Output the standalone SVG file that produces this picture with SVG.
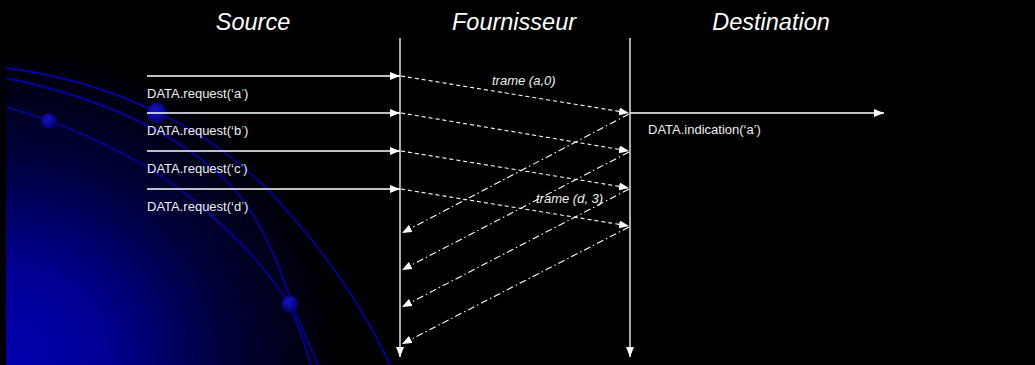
<svg xmlns="http://www.w3.org/2000/svg" width="1035" height="365" viewBox="0 0 1035 365">
  <defs>
    <radialGradient id="glow" gradientUnits="userSpaceOnUse" cx="6" cy="365" r="335" gradientTransform="translate(6 365) scale(1 0.95) translate(-6 -365)">
      <stop offset="0" stop-color="#0000b0"/>
      <stop offset="0.3" stop-color="#000094"/>
      <stop offset="0.65" stop-color="#00003c"/>
      <stop offset="1" stop-color="#000000"/>
    </radialGradient>
    <radialGradient id="bead" cx="0.4" cy="0.35" r="0.7">
      <stop offset="0" stop-color="#1414c0"/>
      <stop offset="1" stop-color="#000070"/>
    </radialGradient>
    <marker id="head" viewBox="0 0 10 8" refX="10" refY="4" markerWidth="10" markerHeight="8" markerUnits="userSpaceOnUse" orient="auto">
      <path d="M0,0 L10,4 L0,8 z" fill="#ffffff"/>
    </marker>
    <style>
      .title { font-family: "Liberation Sans", Arial, sans-serif; font-style: italic; font-size: 23.5px; fill: #ffffff; text-anchor: middle; }
      .label { font-family: "Liberation Sans", Arial, sans-serif; font-size: 13px; fill: #eeeeee; }
      .frame-label { font-family: "Liberation Sans", Arial, sans-serif; font-style: italic; font-size: 13px; fill: #eeeeee; }
      .quote { fill: #33cc33; }
      .life { stroke: #e0e0e0; stroke-width: 1.5; fill: none; marker-end: url(#head); }
      .req { stroke: #ffffff; stroke-width: 1.3; fill: none; marker-end: url(#head); }
      .frame { stroke: #ffffff; stroke-width: 1.1; fill: none; stroke-dasharray: 4 3; marker-end: url(#head); }
      .ack { stroke: #ffffff; stroke-width: 1.1; fill: none; stroke-dasharray: 7 3 1.5 3; marker-end: url(#head); }
      .orbit { stroke: #0000a4; stroke-width: 1.8; fill: none; }
    </style>
  </defs>

  <!-- backdrop -->
  <rect x="0" y="0" width="1035" height="365" fill="#000000"/>
  <rect x="6" y="0" width="1029" height="365" fill="url(#glow)"/>

  <!-- decorative orbits -->
  <g id="decor">
    <path class="orbit" d="M6,68 C100,80 200,120 270,192 C320,245 360,300 390,365"/>
    <path class="orbit" d="M6,78 C90,95 180,130 235,190 C265,225 280,270 292,303 C302,330 312,350 318,365"/>
    <path class="orbit" d="M6,107 C70,125 150,160 205,210 C245,245 275,280 288,303 C298,325 306,348 311,365"/>
    <circle cx="157" cy="113" r="10" fill="url(#bead)"/>
    <circle cx="49" cy="121" r="7.5" fill="url(#bead)"/>
    <circle cx="290" cy="304" r="8" fill="url(#bead)"/>
  </g>

  <!-- column titles -->
  <g id="source">
    <text class="title" x="253" y="30">Source</text>
  </g>
  <g id="fournisseur">
    <text class="title" x="514" y="30">Fournisseur</text>
  </g>
  <g id="destination">
    <text class="title" x="771" y="30">Destination</text>
  </g>

  <!-- connectors -->
  <g id="connectors">
    <!-- lifelines -->
    <line class="life" x1="400" y1="38" x2="400" y2="357"/>
    <line class="life" x1="630" y1="38" x2="630" y2="357"/>

    <!-- service requests -->
    <line class="req" x1="147" y1="76" x2="400" y2="76"/>
    <line class="req" x1="147" y1="113" x2="400" y2="113"/>
    <line class="req" x1="147" y1="151" x2="400" y2="151"/>
    <line class="req" x1="147" y1="189" x2="400" y2="189"/>

    <!-- indication -->
    <line class="req" x1="630" y1="113" x2="884" y2="113"/>

    <!-- frames -->
    <line class="frame" x1="401" y1="76" x2="629" y2="113"/>
    <line class="frame" x1="401" y1="113" x2="629" y2="151"/>
    <line class="frame" x1="401" y1="151" x2="629" y2="188"/>
    <line class="frame" x1="401" y1="189" x2="629" y2="226"/>

    <!-- acknowledgements -->
    <line class="ack" x1="629" y1="114" x2="402" y2="233"/>
    <line class="ack" x1="629" y1="152" x2="402" y2="270"/>
    <line class="ack" x1="629" y1="189" x2="402" y2="307"/>
    <line class="ack" x1="629" y1="227" x2="402" y2="344"/>
  </g>

  <!-- labels -->
  <g id="req-a"><text class="label" x="147" y="98">DATA.request(‘a<tspan class="quote">’</tspan>)</text></g>
  <g id="req-b"><text class="label" x="147" y="135">DATA.request(‘b<tspan class="quote">’</tspan>)</text></g>
  <g id="req-c"><text class="label" x="147" y="173">DATA.request(‘c<tspan class="quote">’</tspan>)</text></g>
  <g id="req-d"><text class="label" x="147" y="211">DATA.request(‘d<tspan class="quote">’</tspan>)</text></g>
  <g id="ind-a"><text class="label" x="648" y="134">DATA.indication(‘a’)</text></g>
  <g id="frame-a0"><text class="frame-label" x="492" y="85">trame (a,0)</text></g>
  <g id="frame-d3"><text class="frame-label" x="536" y="203">trame (d, 3)</text></g>
</svg>
